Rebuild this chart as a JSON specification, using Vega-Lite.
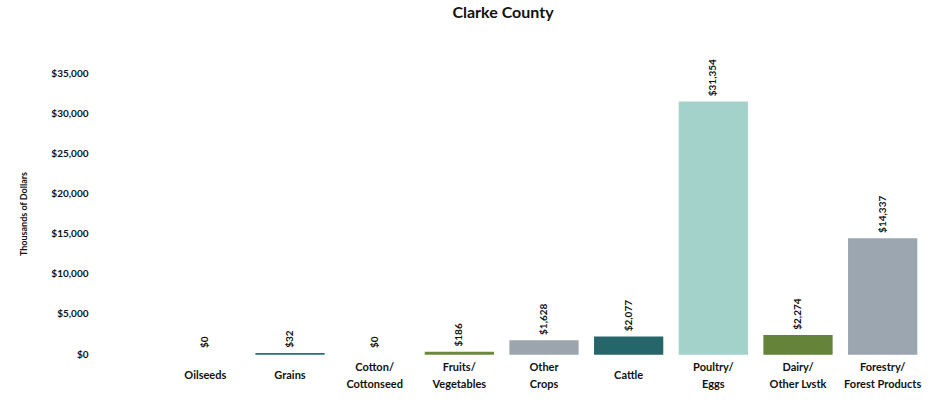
{
  "$schema": "https://vega.github.io/schema/vega-lite/v6.json",
  "width": 762,
  "height": 281,
  "autosize": {"type": "none"},
  "padding": {"left": 163, "top": 73, "right": 6, "bottom": 48},
  "background": "white",
  "config": {"view": {"stroke": null}, "font": "Lato"},
  "title": {"text": "Clarke County", "fontSize": 16, "fontWeight": "bold", "font": "Lato", "color": "#111111", "dx": -41, "offset": 38, "anchor": "middle"},
  "data": {"values": [
    {"category": "Oilseeds", "value": 0, "color": "#2b6e78"},
    {"category": "Grains", "value": 32, "color": "#2b6e78"},
    {"category": "Cotton/Cottonseed", "value": 0, "color": "#2b6e78"},
    {"category": "Fruits/Vegetables", "value": 186, "color": "#6b883c"},
    {"category": "Other Crops", "value": 1628, "color": "#9ca5ae"},
    {"category": "Cattle", "value": 2077, "color": "#24666a"},
    {"category": "Poultry/Eggs", "value": 31354, "color": "#a2d2ca"},
    {"category": "Dairy/Other Lvstk", "value": 2274, "color": "#66833a"},
    {"category": "Forestry/Forest Products", "value": 14337, "color": "#9ca6b0"}
  ]},
  "encoding": {
    "x": {"field": "category", "type": "nominal", "sort": null,
      "scale": {"paddingInner": 0.2, "paddingOuter": 0.1},
      "axis": {"title": null, "labelAngle": 0, "domain": false, "ticks": false,
        "labelPadding": {"condition": {"test": "indexof(datum.value, '/') < 0 && datum.value != 'Other Crops'", "value": 15}, "value": 7},
        "labelFont": "Lato", "labelFontSize": 11, "labelFontWeight": "bold", "labelColor": "#111111", "labelLineHeight": 17,
        "labelExpr": "datum.value == 'Other Crops' ? ['Other', 'Crops'] : (indexof(datum.value, '/') >= 0 ? split(replace(datum.value, '/', '/|'), '|') : datum.value)"}},
    "y": {"field": "value", "type": "quantitative",
      "scale": {"domain": [0, 35000]},
      "axis": {"title": "Thousands of Dollars", "format": "$,.0f", "values": [0, 5000, 10000, 15000, 20000, 25000, 30000, 35000],
        "labelOverlap": false, "domain": false, "ticks": false, "grid": false, "labelPadding": 75,
        "labelFont": "Lato", "labelFontSize": 10, "labelFontWeight": "bold", "labelColor": "#111111",
        "titleFont": "Lato", "titleFontSize": 9, "titleFontWeight": "bold", "titleColor": "#111111", "titlePadding": 22}}
  },
  "layer": [
    {"mark": {"type": "bar"}, "encoding": {
      "color": {"field": "color", "type": "nominal", "scale": null},
      "stroke": {"field": "color", "type": "nominal", "scale": null},
      "strokeWidth": {"condition": {"test": "datum.value > 0", "value": 1.5}, "value": 0}}},
    {"mark": {"type": "text", "angle": 270, "align": "left", "baseline": "middle", "dx": 6, "font": "Lato", "fontSize": 10, "fontWeight": "bold", "color": "#111111"},
      "encoding": {"text": {"field": "value", "type": "quantitative", "format": "$,.0f"}}}
  ]
}
